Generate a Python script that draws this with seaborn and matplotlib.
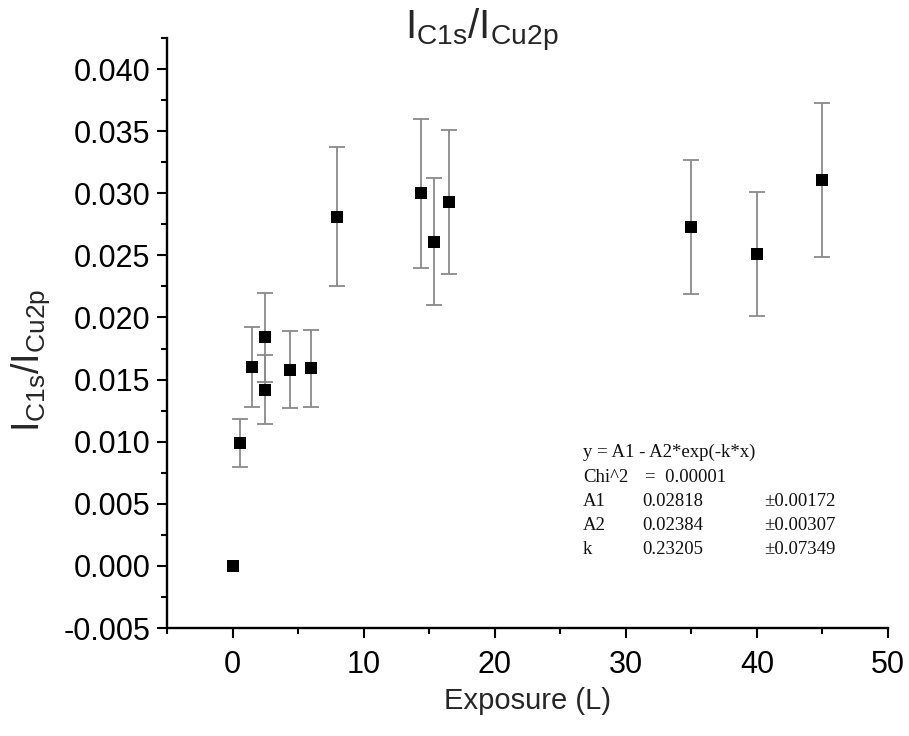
import matplotlib
matplotlib.use("Agg")
import matplotlib.pyplot as plt
from matplotlib.ticker import MultipleLocator, FormatStrFormatter
import seaborn as sns
import pandas as pd

# Carbon uptake: C1s / Cu2p intensity ratio versus exposure
exposure = [0.0, 0.6, 1.5, 2.45, 2.5, 4.4, 6.0, 8.0, 14.4, 15.4, 16.5, 35.0, 40.0, 45.0]
ratio = [0.0000, 0.0099, 0.0160, 0.0184, 0.0142, 0.0158, 0.0159, 0.0281,
         0.0300, 0.0261, 0.0293, 0.0273, 0.0251, 0.0311]
ratio_err = [0.0, 0.0019, 0.0032, 0.0036, 0.0028, 0.0031, 0.0031, 0.0056,
             0.0060, 0.0051, 0.0058, 0.0054, 0.0050, 0.0062]

fit_rows = [
    ("A1", "0.02818", "\u00b10.00172"),
    ("A2", "0.02384", "\u00b10.00307"),
    ("k", "0.23205", "\u00b10.07349"),
]

df = pd.DataFrame({"exposure": exposure, "ratio": ratio, "err": ratio_err})

sns.set_style("ticks")
plt.rcParams["font.family"] = ["Liberation Sans", "DejaVu Sans"]
plt.rcParams["mathtext.fontset"] = "custom"
plt.rcParams["mathtext.rm"] = "Liberation Sans"
plt.rcParams["mathtext.it"] = "Liberation Sans"
plt.rcParams["axes.unicode_minus"] = False

fig = plt.figure(figsize=(9.09, 7.36), dpi=100)
ax = fig.add_axes([167 / 909, 1 - 628 / 736, (888 - 167) / 909, (628 - 38) / 736])

mask = df["err"] > 0
ax.errorbar(df.loc[mask, "exposure"], df.loc[mask, "ratio"], yerr=df.loc[mask, "err"],
            fmt="none", ecolor="#8a8a8a", elinewidth=1.3, capsize=5.5, capthick=1.3, zorder=2)
sns.scatterplot(data=df, x="exposure", y="ratio", marker="s", s=85, color="black",
                edgecolor="black", linewidth=0, ax=ax, zorder=3, legend=False)

ax.set_xlim(-5, 50)
ax.set_ylim(-0.005, 0.0425)
ax.xaxis.set_major_locator(MultipleLocator(10))
ax.xaxis.set_minor_locator(MultipleLocator(5))
ax.yaxis.set_major_locator(MultipleLocator(0.005))
ax.yaxis.set_minor_locator(MultipleLocator(0.0025))
ax.yaxis.set_major_formatter(FormatStrFormatter("%.3f"))

sns.despine(ax=ax)
for side in ("left", "bottom"):
    ax.spines[side].set_linewidth(1.7)
    ax.spines[side].set_color("black")
ax.tick_params(which="major", direction="out", length=7, width=1.5, labelsize=22,
               colors="black", pad=5)
ax.tick_params(which="minor", direction="out", length=4, width=1.5, colors="black")
ax.tick_params(axis="x", pad=9)

ax.set_xlabel("Exposure (L)", fontsize=21, labelpad=5)
ax.set_ylabel("")
fig.text(0.034, 0.51, r"$\mathregular{I_{C1s}/I_{Cu2p}}$", rotation=90,
         fontsize=27, ha="center", va="center")
fig.text(0.53, 0.99, r"$\mathregular{I_{C1s}/I_{Cu2p}}$", fontsize=29,
         ha="center", va="top")

# Exponential fit summary
serif = dict(family=["Liberation Serif", "DejaVu Serif"], fontsize=13.5, color="#111111",
             transform=ax.transAxes, va="center")
y0 = 0.297
dy = 24.3 / 590
ax.text(0.577, y0, "y = A1 - A2*exp(-k*x)", **serif)
ax.text(0.577, y0 - dy, "Chi^2", **serif)
ax.text(0.663, y0 - dy, "=  0.00001", **serif)
for i, (name, val, err) in enumerate(fit_rows):
    yy = y0 - (i + 2) * dy
    ax.text(0.577, yy, name, **serif)
    ax.text(0.659, yy, val, **serif)
    ax.text(0.829, yy, err, **serif)

fig.savefig("out.png", dpi=100)
